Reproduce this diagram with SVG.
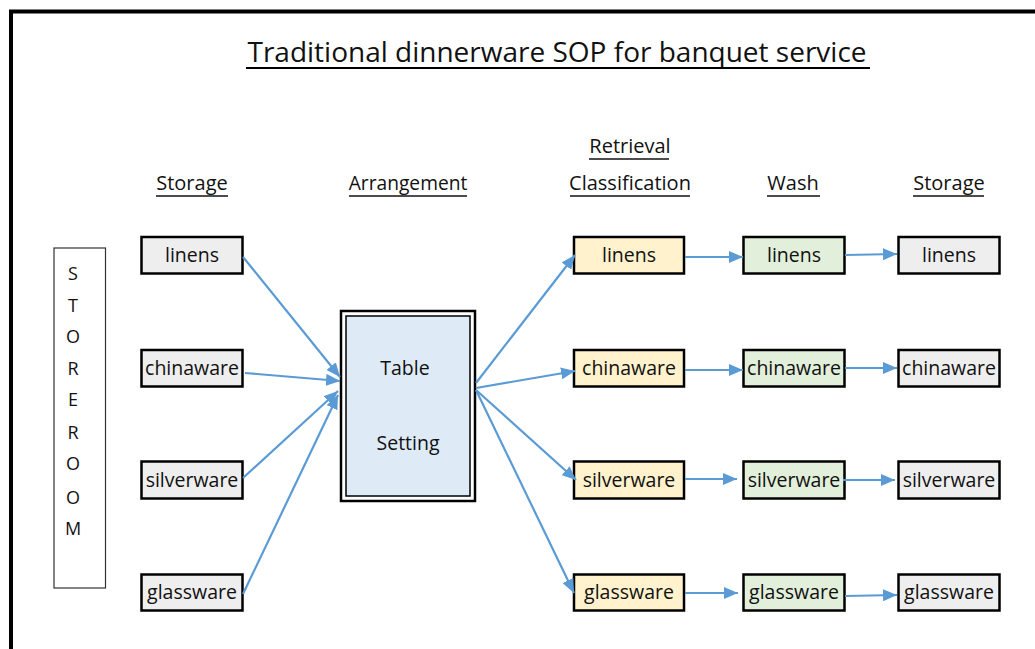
<svg xmlns="http://www.w3.org/2000/svg" width="1035" height="649" viewBox="0 0 1035 649">
<defs>
<style>
text{font-family:"Open Sans","Noto Sans","Liberation Sans",sans-serif;fill:#111;}
.t{font-size:19.5px;text-anchor:middle;}
.h{font-size:20px;text-anchor:middle;}
.ul{stroke:#111;stroke-width:1.6;}
.box{stroke:#000;stroke-width:2.5;}
.st{fill:#eeeeee;}
.rt{fill:#fff2cc;}
.ws{fill:#e2efda;}
.c{stroke:#5b9bd5;stroke-width:2.2;fill:none;marker-end:url(#ah);}
.sr{font-size:18px;text-anchor:middle;}
</style>
<marker id="ah" markerUnits="userSpaceOnUse" markerWidth="14" markerHeight="12" refX="14" refY="6" orient="auto">
<path d="M0,0 L14,6 L0,12 z" fill="#5b9bd5"/>
</marker>
</defs>
<rect width="1035" height="649" fill="#fff"/>
<g id="border">
<line x1="9" y1="11.5" x2="1035" y2="11.5" stroke="#000" stroke-width="4"/>
<line x1="11" y1="10" x2="11" y2="649" stroke="#000" stroke-width="4"/>
</g>
<g id="title">
<text x="557" y="62" style="font-size:28px;text-anchor:middle">Traditional dinnerware SOP for banquet service</text>
<line x1="246" y1="68" x2="870" y2="68" stroke="#000" stroke-width="2.2"/>
</g>
<g id="headers">
<text class="h" x="192" y="190">Storage</text><line class="ul" x1="156" y1="196" x2="228" y2="196"/>
<text class="h" x="408" y="190" style="font-size:19.2px">Arrangement</text><line class="ul" x1="349" y1="196" x2="467" y2="196"/>
<text class="h" x="630" y="153">Retrieval</text><line class="ul" x1="589" y1="159" x2="669" y2="159"/>
<text class="h" x="630" y="190">Classification</text><line class="ul" x1="570" y1="196" x2="690" y2="196"/>
<text class="h" x="793" y="190">Wash</text><line class="ul" x1="767" y1="196" x2="820" y2="196"/>
<text class="h" x="949" y="190">Storage</text><line class="ul" x1="913" y1="196" x2="984" y2="196"/>
</g>
<g id="storeroom">
<rect x="54" y="248" width="51.5" height="340" fill="#fff" stroke="#333" stroke-width="1.2"/>
<text class="sr" x="73" y="280">S</text>
<text class="sr" x="73" y="312">T</text>
<text class="sr" x="73" y="343">O</text>
<text class="sr" x="73" y="375">R</text>
<text class="sr" x="73" y="406">E</text>
<text class="sr" x="73" y="439">R</text>
<text class="sr" x="73" y="470">O</text>
<text class="sr" x="73" y="504">O</text>
<text class="sr" x="73" y="535">M</text>
</g>
<g id="s1-linens"><rect class="box st" x="141.5" y="237" width="101" height="36.5"/><text class="t" x="192" y="262">linens</text></g>
<g id="s1-chinaware"><rect class="box st" x="141.5" y="350" width="101" height="36.5"/><text class="t" x="192" y="375">chinaware</text></g>
<g id="s1-silverware"><rect class="box st" x="141.5" y="461.5" width="101" height="37"/><text class="t" x="192" y="487">silverware</text></g>
<g id="s1-glassware"><rect class="box st" x="141.5" y="574.5" width="101" height="36"/><text class="t" x="192" y="599">glassware</text></g>
<g id="table-setting">
<rect x="341" y="311" width="134" height="190" fill="#fff" stroke="#000" stroke-width="2.5"/>
<rect x="346" y="316" width="124" height="180" fill="#deebf7" stroke="#000" stroke-width="1.5"/>
<text class="t" x="405" y="375">Table</text>
<text class="t" x="408" y="450">Setting</text>
</g>
<g id="r-linens"><rect class="box rt" x="574" y="237" width="110" height="36.5"/><text class="t" x="629" y="262">linens</text></g>
<g id="r-chinaware"><rect class="box rt" x="574" y="350" width="110" height="36.5"/><text class="t" x="629" y="375">chinaware</text></g>
<g id="r-silverware"><rect class="box rt" x="574" y="461.5" width="110" height="37"/><text class="t" x="629" y="487">silverware</text></g>
<g id="r-glassware"><rect class="box rt" x="574" y="574.5" width="110" height="36"/><text class="t" x="629" y="599">glassware</text></g>
<g id="w-linens"><rect class="box ws" x="743.5" y="237" width="101" height="36.5"/><text class="t" x="794" y="262">linens</text></g>
<g id="w-chinaware"><rect class="box ws" x="743.5" y="350" width="101" height="36.5"/><text class="t" x="794" y="375">chinaware</text></g>
<g id="w-silverware"><rect class="box ws" x="743.5" y="461.5" width="101" height="37"/><text class="t" x="794" y="487">silverware</text></g>
<g id="w-glassware"><rect class="box ws" x="743.5" y="574.5" width="101" height="36"/><text class="t" x="794" y="599">glassware</text></g>
<g id="s2-linens"><rect class="box st" x="898.5" y="237" width="101" height="36.5"/><text class="t" x="949" y="262">linens</text></g>
<g id="s2-chinaware"><rect class="box st" x="898.5" y="350" width="101" height="36.5"/><text class="t" x="949" y="375">chinaware</text></g>
<g id="s2-silverware"><rect class="box st" x="898.5" y="461.5" width="101" height="37"/><text class="t" x="949" y="487">silverware</text></g>
<g id="s2-glassware"><rect class="box st" x="898.5" y="574.5" width="101" height="36"/><text class="t" x="949" y="599">glassware</text></g>
<g id="connectors">
<line class="c" x1="243" y1="257" x2="340" y2="377"/>
<line class="c" x1="245" y1="373" x2="340" y2="381"/>
<line class="c" x1="243" y1="478" x2="338" y2="391"/>
<line class="c" x1="243" y1="594" x2="338" y2="395"/>
<line class="c" x1="476" y1="383" x2="575" y2="255"/>
<line class="c" x1="476" y1="388" x2="575" y2="371"/>
<line class="c" x1="476" y1="390" x2="576" y2="480"/>
<line class="c" x1="476" y1="390" x2="574" y2="593"/>
<line class="c" x1="685" y1="257" x2="743" y2="257"/>
<line class="c" x1="685" y1="370" x2="743" y2="370"/>
<line class="c" x1="685" y1="479" x2="737" y2="479"/>
<line class="c" x1="685" y1="593" x2="738" y2="593"/>
<line class="c" x1="845" y1="255" x2="897" y2="254"/>
<line class="c" x1="845" y1="368" x2="897" y2="368"/>
<line class="c" x1="843" y1="480" x2="895" y2="480"/>
<line class="c" x1="845" y1="596" x2="897" y2="595"/>
</g>
</svg>
